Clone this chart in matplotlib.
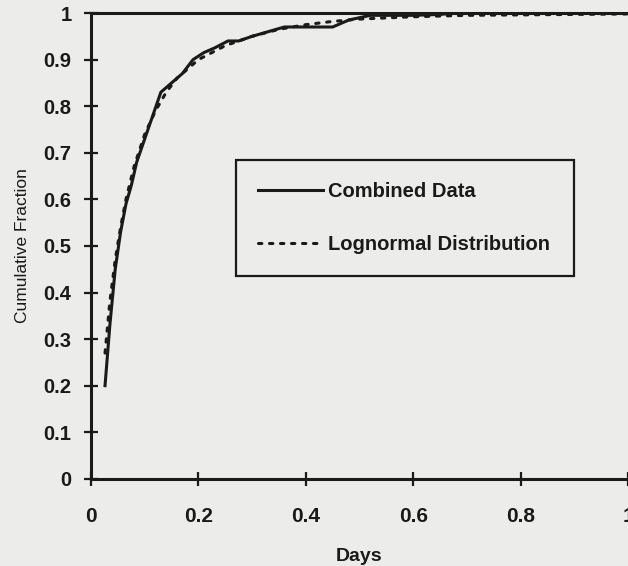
import matplotlib
matplotlib.use("Agg")
import matplotlib.pyplot as plt

# Combined data
combined_x = [0.026, 0.035, 0.045, 0.055, 0.065, 0.075, 0.085, 0.100, 0.115, 0.130,
              0.150, 0.170, 0.190, 0.210, 0.230, 0.255, 0.275, 0.300, 0.330, 0.360,
              0.400, 0.450, 0.480, 0.520, 0.600, 0.650, 0.680, 1.000]
combined_y = [0.20, 0.33, 0.45, 0.53, 0.59, 0.63, 0.68, 0.73, 0.78, 0.83,
              0.85, 0.87, 0.90, 0.915, 0.925, 0.94, 0.94, 0.95, 0.96, 0.97,
              0.97, 0.97, 0.985, 0.995, 0.995, 0.997, 1.0, 1.0]

# Lognormal distribution fit
lognorm_x = [0.026, 0.035, 0.045, 0.055, 0.065, 0.080, 0.100, 0.120, 0.140, 0.160,
             0.180, 0.200, 0.250, 0.300, 0.350, 0.400, 0.450, 0.500, 0.600, 0.700,
             0.800, 1.000]
lognorm_y = [0.27, 0.38, 0.47, 0.54, 0.60, 0.67, 0.74, 0.79, 0.83, 0.86,
             0.88, 0.90, 0.93, 0.95, 0.965, 0.975, 0.982, 0.987, 0.992, 0.995,
             0.996, 0.998]

x_ticks = [0, 0.2, 0.4, 0.6, 0.8, 1]
x_tick_labels = ["0", "0.2", "0.4", "0.6", "0.8", "1"]
y_ticks = [0, 0.1, 0.2, 0.3, 0.4, 0.5, 0.6, 0.7, 0.8, 0.9, 1]
y_tick_labels = ["0", "0.1", "0.2", "0.3", "0.4", "0.5", "0.6", "0.7", "0.8", "0.9", "1"]

bg = "#ececeb"
ink = "#1a1a1a"

fig = plt.figure(figsize=(6.28, 5.66), dpi=100, facecolor=bg)
ax = fig.add_axes([0.145, 0.154, 0.855, 0.823])
ax.set_facecolor(bg)

ax.plot(combined_x, combined_y, color=ink, lw=2.2, solid_joinstyle="round",
        label="Combined Data")
ax.plot(lognorm_x, lognorm_y, color=ink, lw=2.2, linestyle=(0, (1.1, 2.5)),
        dash_capstyle="round", label="Lognormal Distribution")

ax.set_xlim(0, 1)
ax.set_ylim(0, 1)
ax.set_xticks(x_ticks)
ax.set_xticklabels(x_tick_labels)
ax.set_yticks(y_ticks)
ax.set_yticklabels(y_tick_labels)

for sp in ax.spines.values():
    sp.set_color(ink)
    sp.set_linewidth(2.2)
ax.spines["right"].set_visible(False)

ax.tick_params(direction="inout", length=10, width=1.6, color=ink,
               labelsize=15, labelcolor=ink)
for lab in ax.get_xticklabels() + ax.get_yticklabels():
    lab.set_fontfamily("Liberation Sans")
    lab.set_fontweight("bold")
for lab in ax.get_yticklabels():
    lab.set_fontsize(14.5)
ax.tick_params(axis="x", pad=15)
ax.tick_params(axis="y", pad=9)

ax.set_xlabel("Days", fontfamily="Liberation Sans", fontweight="bold",
              fontsize=14, color=ink, labelpad=16)
ax.set_ylabel("Cumulative Fraction", fontfamily="Liberation Sans",
              fontsize=12.5, color=ink, labelpad=10)

leg = ax.legend(loc="upper left", bbox_to_anchor=(0.27, 0.431, 0.63, 0.254),
                mode="expand", frameon=True, fancybox=False, handlelength=3.2,
                handletextpad=0.25, borderpad=1.1, labelspacing=1.7,
                borderaxespad=0.0,
                prop={"family": "Liberation Sans", "weight": "bold", "size": 14.5})
leg.get_frame().set_edgecolor(ink)
leg.get_frame().set_linewidth(1.6)
leg.get_frame().set_facecolor(bg)
leg.get_frame().set_alpha(1)
for t in leg.get_texts():
    t.set_color(ink)

fig.savefig("out.png", dpi=100, facecolor=bg)
